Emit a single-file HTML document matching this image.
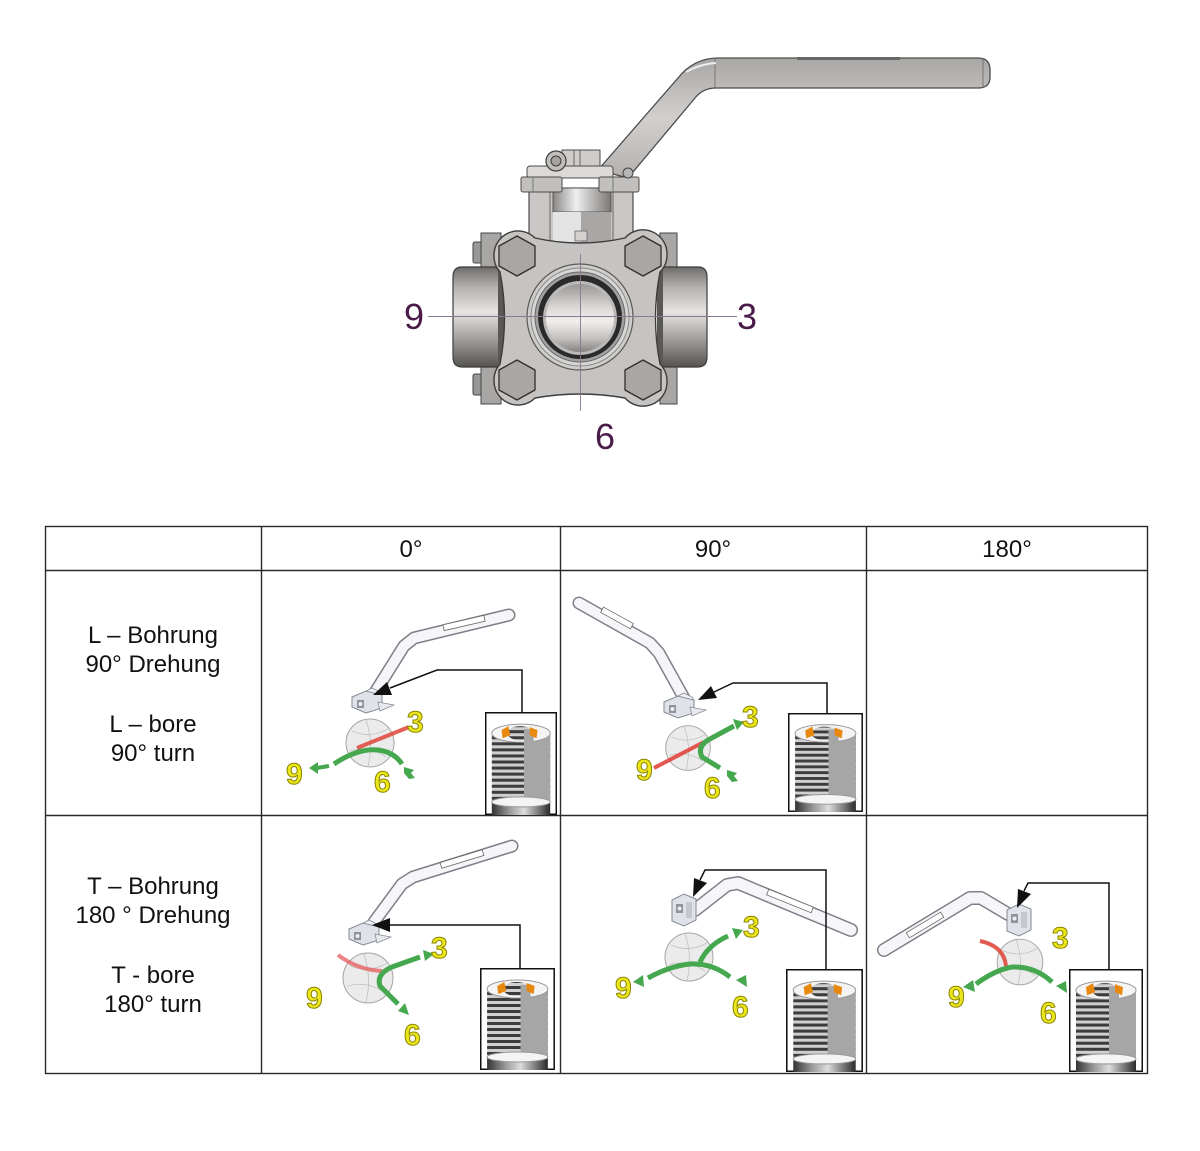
<!DOCTYPE html>
<html>
<head>
<meta charset="utf-8">
<style>
  html,body{margin:0;padding:0;background:#fff;}
  body{width:1200px;height:1151px;overflow:hidden;}
  svg{display:block;}
  .lbl{font-family:"Liberation Sans",Arial,sans-serif;font-size:24px;fill:#111;text-anchor:middle;}
  .num{font-family:"Liberation Sans",Arial,sans-serif;font-size:36px;fill:#4a1a48;text-anchor:middle;}
  .yd{font-family:"Liberation Sans",Arial,sans-serif;font-size:30px;font-weight:bold;fill:#ebe61c;stroke:#8a8400;stroke-width:1;}
</style>
</head>
<body>
<svg width="1200" height="1151" viewBox="0 0 1200 1151" xmlns="http://www.w3.org/2000/svg">
<defs>
  <linearGradient id="pipeV" x1="0" y1="0" x2="0" y2="1">
    <stop offset="0" stop-color="#6e6c6a"/>
    <stop offset="0.2" stop-color="#b4b2b0"/>
    <stop offset="0.45" stop-color="#e6e4e2"/>
    <stop offset="0.7" stop-color="#a6a4a2"/>
    <stop offset="1" stop-color="#555351"/>
  </linearGradient>
  <linearGradient id="stemH" x1="0" y1="0" x2="1" y2="0">
    <stop offset="0" stop-color="#8a8886"/>
    <stop offset="0.4" stop-color="#efefef"/>
    <stop offset="1" stop-color="#7a7876"/>
  </linearGradient>
  <linearGradient id="handleG" x1="0" y1="0" x2="0" y2="1">
    <stop offset="0" stop-color="#a9a7a5"/>
    <stop offset="0.5" stop-color="#d2d0ce"/>
    <stop offset="1" stop-color="#b3b1af"/>
  </linearGradient>
  <linearGradient id="boreG" x1="0" y1="0" x2="0" y2="1">
    <stop offset="0" stop-color="#9a9896"/>
    <stop offset="0.35" stop-color="#dcdad8"/>
    <stop offset="0.55" stop-color="#f0efee"/>
    <stop offset="0.8" stop-color="#c4c2c0"/>
    <stop offset="1" stop-color="#858381"/>
  </linearGradient>
  <linearGradient id="collarG" x1="0" y1="0" x2="1" y2="0">
    <stop offset="0" stop-color="#333"/>
    <stop offset="0.3" stop-color="#999"/>
    <stop offset="0.55" stop-color="#ddd"/>
    <stop offset="1" stop-color="#2a2a2a"/>
  </linearGradient>
  <pattern id="thr" width="8" height="6" patternUnits="userSpaceOnUse">
    <rect width="8" height="6" fill="#d0d0d0"/>
    <rect y="0" width="8" height="3" fill="#3c3c3c"/>
  </pattern>

  <g id="inset">
    <rect x="0.75" y="0.75" width="72.5" height="100.5" fill="#fff" stroke="#111" stroke-width="1.5"/>
    <rect x="7" y="21" width="60" height="68" fill="url(#thr)"/>
    <rect x="40" y="21" width="27" height="68" fill="#a6a6a6"/>
    <ellipse cx="37" cy="21" rx="30" ry="9" fill="#f4f4f4" stroke="#9a9a9a"/>
    <ellipse cx="36" cy="21" rx="13" ry="7" fill="url(#thr)"/>
    <rect x="40" y="17" width="10" height="15" fill="#a6a6a6"/>
    <polygon points="17,18 24,14 26,23 18,26" fill="#e8880e"/>
    <polygon points="46,15 54,18 53,26 46,23" fill="#e8880e"/>
    <rect x="7" y="88" width="60" height="14" fill="url(#collarG)"/>
    <ellipse cx="37" cy="89" rx="30" ry="5" fill="#f4f4f4" stroke="#999"/>
  </g>

  <g id="ball">
    <circle cx="0" cy="0" r="24" fill="#e8e8e8" fill-opacity="0.85" stroke="#a5a5a5" stroke-width="1"/>
    <path d="M-18,-12 Q0,-4 18,-14 M-20,8 Q-2,2 16,14 M-4,-23 Q4,0 -2,23" fill="none" stroke="#c0c0c0" stroke-width="0.8"/>
  </g>

  <g id="capH">
    <polygon points="2,9 16,3 32,7 32,20 16,25 2,19" fill="#dfe2e8" stroke="#858a94" stroke-width="1"/>
    <polygon points="16,3 22,0 30,4 32,7" fill="#eef0f4" stroke="#858a94" stroke-width="0.8"/>
    <rect x="7" y="12" width="7" height="8" fill="#8f949c"/>
    <circle cx="10.5" cy="16" r="2" fill="#eee"/>
    <polygon points="28,14 44,17 30,23" fill="#e8e9ee" stroke="#8a8e96" stroke-width="0.8"/>
  </g>

  <g id="capV">
    <polygon points="0,6 12,0 24,5 24,26 12,32 0,27" fill="#dfe2e8" stroke="#858a94" stroke-width="1"/>
    <rect x="4" y="10" width="7" height="9" fill="#8f949c"/>
    <circle cx="7.5" cy="14.5" r="2" fill="#eee"/>
    <rect x="14" y="8" width="6" height="16" fill="#c4c8d0"/>
  </g>
</defs>

<!-- ================= TOP VALVE DRAWING ================= -->
<path d="M598,170 L678,78 Q694,58 718,58 L978,58 Q990,58 990,70 L990,77 Q990,88 978,88 L716,88 Q703,88 695,98 L628,178 Z" fill="url(#handleG)" stroke="#4d4b49" stroke-width="1.3"/>
<line x1="715" y1="58" x2="715" y2="88" stroke="#6a6866" stroke-width="0.8"/>
<line x1="983" y1="58" x2="983" y2="88" stroke="#6a6866" stroke-width="0.8"/>
<rect x="797" y="57" width="103" height="3" fill="#6a6866"/>
<path d="M686,72 Q700,64 716,63" fill="none" stroke="#eee" stroke-width="2"/>

<!-- side nuts behind -->
<rect x="473" y="242" width="10" height="21" rx="2" fill="#9a9896" stroke="#444"/>
<rect x="481" y="233" width="20" height="39" fill="#a9a7a5" stroke="#444"/>
<rect x="473" y="374" width="10" height="21" rx="2" fill="#9a9896" stroke="#444"/>
<rect x="481" y="365" width="20" height="39" fill="#a9a7a5" stroke="#444"/>
<rect x="660" y="233" width="17" height="39" fill="#a9a7a5" stroke="#444"/>
<rect x="660" y="365" width="17" height="39" fill="#a9a7a5" stroke="#444"/>

<!-- pipes -->
<path d="M503,267 L462,267 Q453,267 453,277 L453,357 Q453,367 462,367 L503,367 Z" fill="url(#pipeV)" stroke="#3e3c3a" stroke-width="1.2"/>
<path d="M658,267 L698,267 Q707,267 707,277 L707,357 Q707,367 698,367 L658,367 Z" fill="url(#pipeV)" stroke="#3e3c3a" stroke-width="1.2"/>
<rect x="498" y="269" width="6" height="96" fill="#5a5856"/>
<rect x="657" y="269" width="6" height="96" fill="#5a5856"/>

<!-- neck -->
<rect x="529" y="188" width="104" height="58" fill="#c9c7c5" stroke="#4d4b49" stroke-width="1.2"/>
<line x1="550" y1="190" x2="550" y2="245" stroke="#6a6866"/>
<line x1="613" y1="190" x2="613" y2="245" stroke="#6a6866"/>
<rect x="553" y="188" width="58" height="24" fill="url(#stemH)" stroke="#555"/>
<rect x="553" y="212" width="28" height="30" fill="#e4e4e4"/>
<rect x="581" y="212" width="30" height="30" fill="#a9a7a5"/>
<rect x="575" y="231" width="12" height="10" fill="#d4d2d0" stroke="#666" stroke-width="0.8"/>

<!-- top cap -->
<rect x="562" y="150" width="38" height="22" fill="#cfcdcb" stroke="#4d4b49"/>
<line x1="574" y1="150" x2="574" y2="172" stroke="#6a6866"/>
<line x1="580" y1="150" x2="580" y2="172" stroke="#6a6866"/>
<rect x="527" y="166" width="86" height="12" rx="3" fill="#dcdad8" stroke="#4d4b49"/>
<rect x="521" y="177" width="41" height="15" rx="2" fill="#c2c0be" stroke="#4d4b49"/>
<rect x="599" y="177" width="40" height="15" rx="2" fill="#c2c0be" stroke="#4d4b49"/>
<line x1="533" y1="177" x2="533" y2="192" stroke="#777"/>
<line x1="613" y1="177" x2="613" y2="192" stroke="#777"/>
<circle cx="556" cy="161" r="10" fill="#c0bebc" stroke="#3e3c3a" stroke-width="1.2"/>
<circle cx="556" cy="161" r="5" fill="#a5a3a1" stroke="#3e3c3a"/>
<circle cx="628" cy="173" r="5" fill="#b8b6b4" stroke="#444"/>

<!-- flange body -->
<path d="M494,255 A24,24 0 0 1 535,238 Q580,248 625,238 A24,24 0 0 1 667,255 A24,24 0 0 1 660,272 Q651,318 660,364 A24,24 0 0 1 667,381 A24,24 0 0 1 625,398 Q580,390 535,398 A24,24 0 0 1 494,381 A24,24 0 0 1 500,364 Q509,318 500,272 A24,24 0 0 1 494,255 Z" fill="#c6c4c2" stroke="#3e3c3a" stroke-width="1.4"/>

<!-- bolts -->
<g fill="#a9a6a3" stroke="#2f2d2b" stroke-width="1.3" stroke-linejoin="round">
  <polygon points="517,236 535,246 535,266 517,276 499,266 499,246"/>
  <polygon points="643,236 661,246 661,266 643,276 625,266 625,246"/>
  <polygon points="517,360 535,370 535,390 517,400 499,390 499,370"/>
  <polygon points="643,360 661,370 661,390 643,400 625,390 625,370"/>
</g>

<!-- ring / bore -->
<circle cx="580" cy="317" r="53" fill="#cfcdcb" stroke="#5a5856" stroke-width="1.2"/>
<circle cx="580" cy="317" r="49" fill="#d8d6d4" stroke="#888"/>
<circle cx="580" cy="317" r="45" fill="#a4a2a0" stroke="#666"/>
<circle cx="580" cy="317" r="42" fill="#2a2a2a"/>
<circle cx="580" cy="318" r="37" fill="#bcbab8"/>
<circle cx="580" cy="318" r="34" fill="url(#boreG)"/>

<!-- centerlines -->
<line x1="428" y1="316.5" x2="737" y2="316.5" stroke="#8a7890" stroke-width="0.9"/>
<line x1="580.5" y1="254" x2="580.5" y2="411" stroke="#8a7890" stroke-width="0.9"/>

<text class="num" x="414" y="329">9</text>
<text class="num" x="747" y="329">3</text>
<text class="num" x="605" y="449">6</text>

<!-- ================= TABLE ================= -->
<g stroke="#2a2a2a" stroke-width="1.4" fill="none">
  <rect x="45.5" y="526.5" width="1102" height="547"/>
  <line x1="45" y1="570.5" x2="1148" y2="570.5"/>
  <line x1="45" y1="815.5" x2="1148" y2="815.5"/>
  <line x1="261.5" y1="526" x2="261.5" y2="1074"/>
  <line x1="560.5" y1="526" x2="560.5" y2="1074"/>
  <line x1="866.5" y1="526" x2="866.5" y2="1074"/>
</g>

<text class="lbl" x="411" y="557">0°</text>
<text class="lbl" x="713" y="557">90°</text>
<text class="lbl" x="1007" y="557">180°</text>

<text class="lbl" x="153" y="643">L – Bohrung</text>
<text class="lbl" x="153" y="672">90° Drehung</text>
<text class="lbl" x="153" y="732">L – bore</text>
<text class="lbl" x="153" y="761">90° turn</text>

<text class="lbl" x="153" y="894">T – Bohrung</text>
<text class="lbl" x="153" y="923">180 ° Drehung</text>
<text class="lbl" x="153" y="983">T - bore</text>
<text class="lbl" x="153" y="1012">180° turn</text>

<!-- ===== Cell A (L, 0°) ===== -->
<use href="#ball" transform="translate(370,743)"/>
<line x1="357" y1="748" x2="409" y2="727" stroke="#e0463c" stroke-width="4" opacity="0.85"/>
<path d="M334,764 Q358,748 378,750 Q394,752 402,764" fill="none" stroke="#45a84f" stroke-width="5"/>
<line x1="317" y1="768" x2="329" y2="766" stroke="#45a84f" stroke-width="4"/>
<polygon points="309,768 318,762 318,774" fill="#45a84f"/>
<polygon points="404,767 414,770 411,773 415,778 409,779 404,773" fill="#45a84f"/>
<polyline points="374,694 404,646 414,638 509,615" fill="none" stroke="#7d8088" stroke-width="13" stroke-linecap="round" stroke-linejoin="round"/>
<polyline points="374,694 404,646 414,638 509,615" fill="none" stroke="#f6f6f8" stroke-width="10" stroke-linecap="round" stroke-linejoin="round"/>
<rect x="443" y="620" width="42" height="6" fill="#fff" stroke="#666" stroke-width="0.8" transform="rotate(-13 464 623)"/>
<use href="#capH" transform="translate(350,688)"/>
<polyline points="522,712 522,670 437,670 390,688" fill="none" stroke="#111" stroke-width="1.5"/>
<polygon points="373,695 392,695 387,682" fill="#111"/>
<text class="yd" x="407" y="732">3</text>
<text class="yd" x="286" y="784">9</text>
<text class="yd" x="374" y="792">6</text>
<use href="#inset" transform="translate(485,712) scale(0.973,1.01)"/>

<!-- ===== Cell B (L, 90°) ===== -->
<use href="#ball" transform="translate(688,748) scale(0.93)"/>
<line x1="654" y1="768" x2="704" y2="742" stroke="#e0463c" stroke-width="4" opacity="0.9"/>
<path d="M734,726 L708,740 Q697,747 702,757 L720,768" fill="none" stroke="#45a84f" stroke-width="5"/>
<polygon points="744,722 733,719 737,730" fill="#45a84f"/>
<polygon points="727,770 737,773 734,776 738,781 732,782 727,776" fill="#45a84f"/>
<polyline points="579,603 650,643 659,653 684,698" fill="none" stroke="#7d8088" stroke-width="13" stroke-linecap="round" stroke-linejoin="round"/>
<polyline points="579,603 650,643 659,653 684,698" fill="none" stroke="#f6f6f8" stroke-width="10" stroke-linecap="round" stroke-linejoin="round"/>
<rect x="600" y="615" width="34" height="6" fill="#fff" stroke="#666" stroke-width="0.8" transform="rotate(29 617 618)"/>
<use href="#capH" transform="translate(662,693)"/>
<polyline points="827,713 827,683 733,683 714,692" fill="none" stroke="#111" stroke-width="1.5"/>
<polygon points="698,700 717,698 711,686" fill="#111"/>
<text class="yd" x="742" y="727">3</text>
<text class="yd" x="636" y="780">9</text>
<text class="yd" x="704" y="798">6</text>
<use href="#inset" transform="translate(788,713) scale(1.013,0.97)"/>

<!-- ===== Cell C (T, 0°) ===== -->
<use href="#ball" transform="translate(368,978) scale(1.04)"/>
<path d="M338,955 Q358,970 382,971" fill="none" stroke="#e45a5a" stroke-width="4" opacity="0.75"/>
<path d="M420,957 L392,967 Q376,974 380,986 L398,1004" fill="none" stroke="#45a84f" stroke-width="5"/>
<polygon points="434,954 423,950 425,961" fill="#45a84f"/>
<polygon points="409,1015 398,1011 405,1003" fill="#45a84f"/>
<polyline points="374,922 402,884 413,877 512,846" fill="none" stroke="#7d8088" stroke-width="13" stroke-linecap="round" stroke-linejoin="round"/>
<polyline points="374,922 402,884 413,877 512,846" fill="none" stroke="#f6f6f8" stroke-width="10" stroke-linecap="round" stroke-linejoin="round"/>
<rect x="440" y="856" width="44" height="6" fill="#fff" stroke="#666" stroke-width="0.8" transform="rotate(-17 462 859)"/>
<use href="#capH" transform="translate(347,920)"/>
<polyline points="520,968 520,925 389,925" fill="none" stroke="#111" stroke-width="1.5"/>
<polygon points="372,925 390,918 390,932" fill="#111"/>
<text class="yd" x="431" y="958">3</text>
<text class="yd" x="306" y="1008">9</text>
<text class="yd" x="404" y="1045">6</text>
<use href="#inset" transform="translate(480,968) scale(1.013,1)"/>

<!-- ===== Cell D (T, 90°) ===== -->
<use href="#ball" transform="translate(689,957)"/>
<path d="M648,978 Q670,966 690,964 Q712,963 730,977" fill="none" stroke="#45a84f" stroke-width="5"/>
<path d="M700,962 Q708,945 728,936" fill="none" stroke="#45a84f" stroke-width="5"/>
<polygon points="633,982 643,975 644,987" fill="#45a84f"/>
<polygon points="736,980 746,975 747,987" fill="#45a84f"/>
<polygon points="743,930 732,928 736,939" fill="#45a84f"/>
<polyline points="695,910 727,885 738,883 851,930" fill="none" stroke="#7d8088" stroke-width="14" stroke-linecap="round" stroke-linejoin="round"/>
<polyline points="695,910 727,885 738,883 851,930" fill="none" stroke="#f6f6f8" stroke-width="11" stroke-linecap="round" stroke-linejoin="round"/>
<rect x="766" y="898" width="48" height="6" fill="#fff" stroke="#666" stroke-width="0.8" transform="rotate(22 790 901)"/>
<use href="#capV" transform="translate(672,894)"/>
<polyline points="826,970 826,870 705,870 700,880" fill="none" stroke="#111" stroke-width="1.5"/>
<polygon points="693,897 707,883 694,878" fill="#111"/>
<text class="yd" x="743" y="937">3</text>
<text class="yd" x="615" y="998">9</text>
<text class="yd" x="732" y="1017">6</text>
<use href="#inset" transform="translate(786,969) scale(1.04,1.01)"/>

<!-- ===== Cell E (T, 180°) ===== -->
<use href="#ball" transform="translate(1020,962) scale(0.95)"/>
<path d="M980,941 Q1004,946 1006,966" fill="none" stroke="#e04a40" stroke-width="4" opacity="0.9"/>
<path d="M976,984 Q995,970 1012,967 Q1035,966 1052,982" fill="none" stroke="#45a84f" stroke-width="5"/>
<polygon points="963,987 973,980 975,992" fill="#45a84f"/>
<polygon points="1056,986 1066,981 1067,993" fill="#45a84f"/>
<polyline points="1008,914 981,898 970,898 884,950" fill="none" stroke="#7d8088" stroke-width="14" stroke-linecap="round" stroke-linejoin="round"/>
<polyline points="1008,914 981,898 970,898 884,950" fill="none" stroke="#f6f6f8" stroke-width="11" stroke-linecap="round" stroke-linejoin="round"/>
<rect x="905" y="922" width="40" height="6" fill="#fff" stroke="#666" stroke-width="0.8" transform="rotate(-31 925 925)"/>
<use href="#capV" transform="translate(1007,904)"/>
<polyline points="1109,970 1109,883 1028,883 1024,891" fill="none" stroke="#111" stroke-width="1.5"/>
<polygon points="1017,908 1031,894 1018,889" fill="#111"/>
<text class="yd" x="1052" y="948">3</text>
<text class="yd" x="948" y="1007">9</text>
<text class="yd" x="1040" y="1023">6</text>
<use href="#inset" transform="translate(1069,969) scale(1,1.01)"/>
</svg>
</body>
</html>
